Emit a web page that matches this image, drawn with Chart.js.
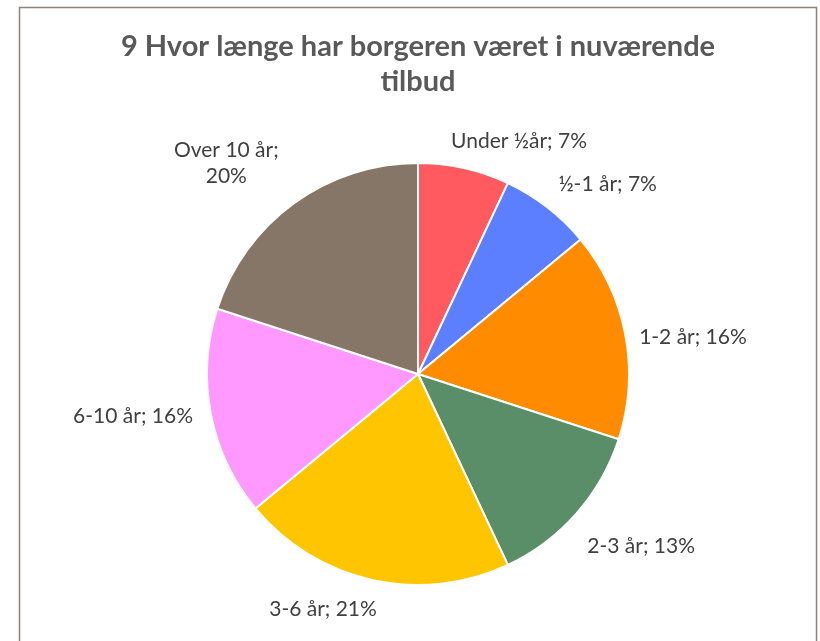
<!DOCTYPE html>
<html>
<head>
<meta charset="utf-8">
<script src="https://cdn.jsdelivr.net/npm/chart.js@4.4.1/dist/chart.umd.min.js"></script>
<style>
  html, body { margin: 0; padding: 0; background: #fff; }
  #wrap { width: 820px; height: 641px; position: relative; }
</style>
</head>
<body>
<div id="wrap"><canvas id="chart-pie" width="820" height="641"></canvas></div>
<script>
const titleLines = ['9 Hvor længe har borgeren været i nuværende', 'tilbud'];
const categories = ['Under ½år', '½-1 år', '1-2 år', '2-3 år', '3-6 år', '6-10 år', 'Over 10 år'];
const shares = [7, 7, 16, 13, 21, 16, 20];
const colors = ['#FF5A5F', '#5B7FFF', '#FF8C00', '#5A8E68', '#FFC600', '#FF99FF', '#857667'];
// small nudges so labels sit where the original layout put them
const labelNudge = [[38, -4], [24, -5], [5, 7], [17, 17], [-35, 7], [-9, -2], [-31, -11]];
const labelLines = { 6: ['Over 10 år;', '20%'] };

const frameAndText = {
  id: 'frameAndText',
  beforeDraw(chart) {
    const ctx = chart.ctx;
    ctx.save();
    ctx.strokeStyle = '#8C8279';
    ctx.lineWidth = 1.5;
    ctx.strokeRect(19.5, 7.5, 797, 700);
    ctx.restore();
  },
  afterDraw(chart) {
    const ctx = chart.ctx;
    ctx.save();
    ctx.textAlign = 'center';
    ctx.textBaseline = 'middle';
    ctx.fillStyle = '#595959';
    ctx.font = 'bold 29px Lato';
    ctx.fillText(titleLines[0], 418, 47);
    ctx.fillText(titleLines[1], 418, 82);

    ctx.font = '21px Lato';
    ctx.fillStyle = '#404040';
    const meta = chart.getDatasetMeta(0);
    const lh = 26;
    meta.data.forEach((arc, i) => {
      const p = arc.getProps(['x', 'y', 'startAngle', 'endAngle', 'outerRadius'], true);
      const mid = (p.startAngle + p.endAngle) / 2;
      const dx = Math.cos(mid), dy = Math.sin(mid);
      const lines = labelLines[i] || [categories[i] + '; ' + shares[i] + '%'];
      const w = Math.max(...lines.map((t) => ctx.measureText(t).width));
      const h = lines.length * lh;
      const r = p.outerRadius + 10;
      const cx = p.x + dx * r + dx * w / 2 + labelNudge[i][0];
      const cy = p.y + dy * r + dy * h / 2 + labelNudge[i][1];
      lines.forEach((t, k) => {
        ctx.fillText(t, cx, cy - h / 2 + lh / 2 + k * lh);
      });
    });
    ctx.restore();
  },
};

new Chart(document.getElementById('chart-pie').getContext('2d'), {
  type: 'pie',
  data: {
    labels: categories,
    datasets: [
      {
        data: shares,
        backgroundColor: colors,
        borderColor: '#ffffff',
        borderWidth: 2,
      },
    ],
  },
  options: {
    responsive: false,
    animation: false,
    layout: { padding: { top: 162, bottom: 55, left: 206, right: 190 } },
    plugins: {
      legend: { display: false },
      tooltip: { enabled: false },
      title: { display: false },
    },
  },
  plugins: [frameAndText],
});
</script>
</body>
</html>
